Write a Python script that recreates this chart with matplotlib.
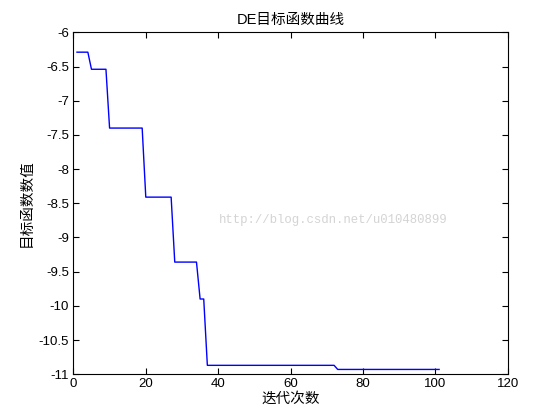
import matplotlib
matplotlib.use("Agg")
import matplotlib.pyplot as plt
import numpy as np

plt.rcParams['font.family'] = ['Liberation Sans', 'Noto Sans CJK SC', 'DejaVu Sans']

# Data (best objective value per generation)
iterations = list(range(1, 102))
objective = ([-6.29] * 4 + [-6.54] * 5 + [-7.40] * 10 + [-8.41] * 8 +
             [-9.36] * 7 + [-9.90] * 2 + [-10.87] * 36 + [-10.93] * 29)

title_text = "DE目标函数曲线"
xlabel_text = "迭代次数"
ylabel_text = "目标函数数值"
x_ticks = [0, 20, 40, 60, 80, 100, 120]
y_ticks = [-11, -10.5, -10, -9.5, -9, -8.5, -8, -7.5, -7, -6.5, -6]
y_ticklabels = ["-11", "-10.5", "-10", "-9.5", "-9", "-8.5", "-8", "-7.5", "-7", "-6.5", "-6"]

fig = plt.figure(figsize=(5.6, 4.2), dpi=100)
ax = fig.add_axes([0.131, 0.109, 0.776, 0.814])
ax.plot(iterations, objective, color=(0, 0, 1), lw=1.0, zorder=3)

ax.set_xlim(0, 120)
ax.set_ylim(-11, -6)
ax.set_xticks(x_ticks)
ax.set_xticklabels([str(t) for t in x_ticks])
ax.set_yticks(y_ticks)
ax.set_yticklabels(y_ticklabels)
ax.tick_params(direction='in', top=True, right=True, length=4, width=0.8,
               labelsize=9.5, pad=3)
for s in ax.spines.values():
    s.set_linewidth(0.8)

ax.set_title(title_text, fontsize=10.5, pad=6)
ax.set_xlabel(xlabel_text, fontsize=10.5, labelpad=1)
ax.set_ylabel(ylabel_text, fontsize=10.5, labelpad=4)

ax.text(0.39, 0.475, "http://blog.csdn.net/u010480899", color='#d4d4d4',
        fontsize=8.9, family=['Liberation Mono', 'DejaVu Sans Mono'],
        ha='left', va='center', transform=fig.transFigure, zorder=1)

fig.savefig("out.png", dpi=100, facecolor='white')
